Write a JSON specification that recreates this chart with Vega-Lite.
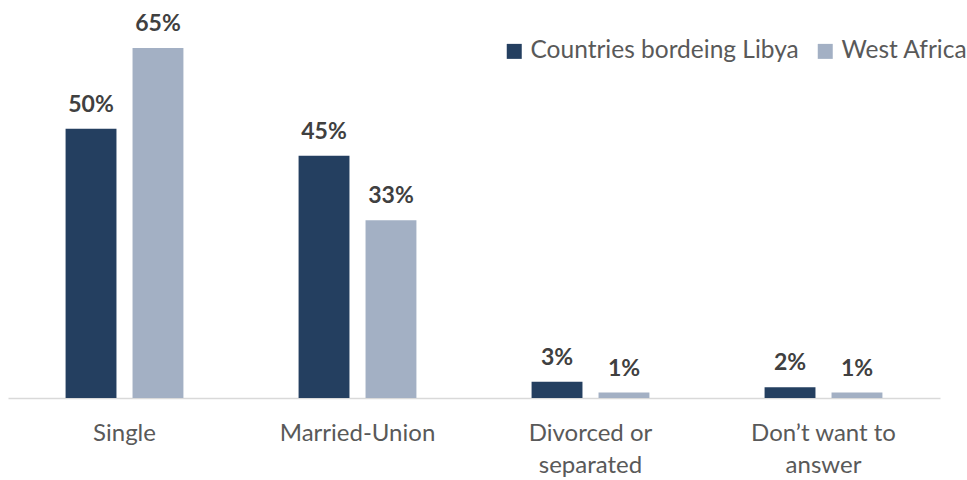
{
  "$schema": "https://vega.github.io/schema/vega-lite/v6.json",
  "width": 932,
  "height": 377,
  "autosize": {"type": "none"},
  "padding": {"left": 8, "top": 21, "right": 27, "bottom": 82},
  "background": "white",
  "data": {
    "values": [
      {"category": "Single", "series": "Countries bordeing Libya", "value": 0.50},
      {"category": "Single", "series": "West Africa", "value": 0.65},
      {"category": "Married-Union", "series": "Countries bordeing Libya", "value": 0.45},
      {"category": "Married-Union", "series": "West Africa", "value": 0.33},
      {"category": "Divorced or|separated", "series": "Countries bordeing Libya", "value": 0.03},
      {"category": "Divorced or|separated", "series": "West Africa", "value": 0.01},
      {"category": "Don’t want to|answer", "series": "Countries bordeing Libya", "value": 0.02},
      {"category": "Don’t want to|answer", "series": "West Africa", "value": 0.01}
    ]
  },
  "encoding": {
    "x": {
      "field": "category", "type": "nominal", "sort": null,
      "scale": {"paddingInner": 0, "paddingOuter": 0},
      "axis": {
        "title": null, "labelAngle": 0, "ticks": false, "domainColor": "#D9D9D9", "domainWidth": 1.5,
        "labelFont": "Lato", "labelFontSize": 24, "labelColor": "#595959", "labelPadding": 35,
        "labelExpr": "split(datum.label, '|')", "labelLineHeight": 32, "labelBaseline": "middle"
      }
    },
    "xOffset": {
      "field": "series", "type": "nominal", "sort": null,
      "scale": {"paddingInner": 0.24, "paddingOuter": 0.86}
    },
    "y": {
      "field": "value", "type": "quantitative",
      "scale": {"domain": [0, 0.7], "nice": false},
      "axis": null
    }
  },
  "layer": [
    {
      "mark": {"type": "bar"},
      "encoding": {
        "color": {
          "field": "series", "type": "nominal", "sort": null,
          "scale": {"domain": ["Countries bordeing Libya", "West Africa"], "range": ["#243F60", "#A3B0C4"]},
          "legend": {
            "title": null, "orient": "none", "direction": "horizontal",
            "legendX": 494, "legendY": 18,
            "symbolType": "square", "symbolSize": 225, "symbolStrokeWidth": 0,
            "labelFont": "Lato", "labelFontSize": 24.5, "labelColor": "#595959", "labelLimit": 400,
            "columnPadding": 14, "labelOffset": 4
          }
        }
      }
    },
    {
      "mark": {"type": "text", "dy": -17, "baseline": "alphabetic", "font": "Lato", "fontSize": 23, "fontWeight": "bold", "color": "#404040"},
      "encoding": {
        "text": {"field": "value", "type": "quantitative", "format": ".0%"}
      }
    }
  ],
  "config": {"view": {"stroke": null}}
}
